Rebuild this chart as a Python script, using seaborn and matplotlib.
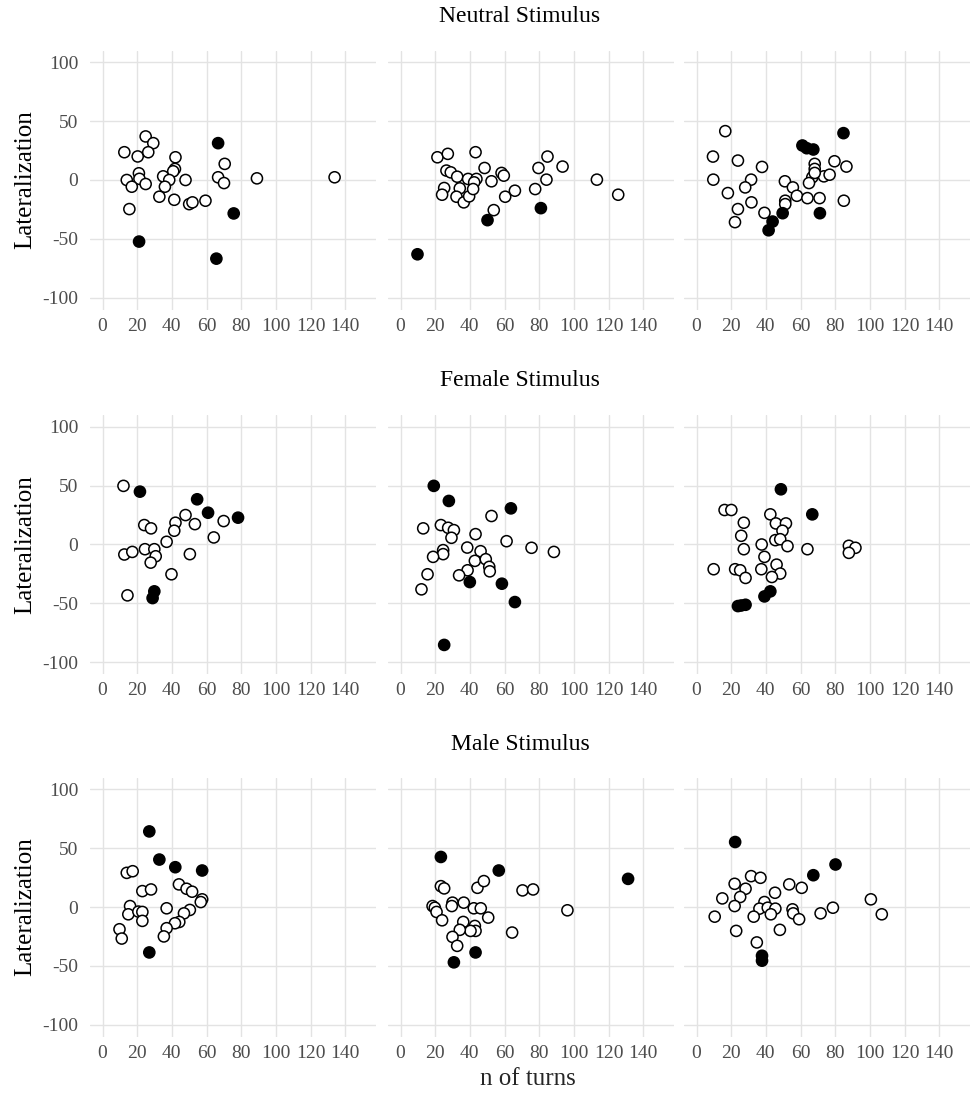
import pandas as pd
import seaborn as sns
import matplotlib.pyplot as plt

# --- data: (n of turns, lateralization) ---
stimuli = ['Neutral Stimulus', 'Female Stimulus', 'Male Stimulus']
x_ticks = [0, 20, 40, 60, 80, 100, 120, 140]
y_ticks = [-100, -50, 0, 50, 100]

neutral_1_open = [(12.6, 23.6), (20.3, 20), (24.9, 37), (29.3, 31.3), (26.4, 23.6), (14, 0),
                  (21, 5.7), (21.3, 1), (16.9, -5.7), (24.9, -3.4), (42.1, 19.3), (41.8, 9.4),
                  (40.8, 7.4), (35, 3.1), (38.5, 0), (36, -5.7), (32.8, -14.2), (41.4, -16.8),
                  (47.9, 0), (50, -20.5), (51.9, -19), (59.4, -17.6), (15.5, -24.7), (66.7, 2.3),
                  (70.1, -2.6), (70.5, 13.7), (89.1, 1.4), (133.9, 2.3)]
neutral_1_fill = [(66.7, 31.3), (21.1, -52.3), (65.7, -66.8), (75.7, -28.4)]

neutral_2_open = [(21.3, 19.3), (27.3, 22.2), (43.3, 23.6), (26.5, 8), (29, 6.5), (32.7, 2.8),
                  (48.5, 10.2), (39, 0.9), (43.8, 0.9), (42.5, -2), (52.5, -1.1), (58.3, 6),
                  (59.6, 3.7), (25.2, -6.8), (24, -12.5), (34.2, -7.1), (32.3, -14.2), (36.5, -19),
                  (39.6, -13.9), (41.9, -7.7), (60.4, -14.2), (66, -9.1), (53.8, -25.6), (79.6, 10.2),
                  (84.8, 19.9), (93.5, 11.4), (84.2, 0.3), (77.7, -7.7), (113.3, 0.3), (125.6, -12.5)]
neutral_2_fill = [(9.8, -63.1), (50.2, -34.1), (81, -23.9)]

neutral_3_open = [(16.6, 41.5), (9.5, 19.9), (9.7, 0.3), (23.9, 16.5), (37.8, 11.1), (31.5, 0.3),
                  (28.1, -6.3), (18.1, -11.1), (23.9, -24.7), (31.7, -19), (22.2, -35.8), (39.2, -27.9),
                  (51, -1.1), (55.6, -6.3), (57.9, -13.4), (51.2, -17.6), (51.2, -20.5), (64, -15.4),
                  (71, -15.4), (85, -17.6), (68.2, 13.7), (68.2, 9.4), (66.8, 2.3), (64.9, -2.6),
                  (73.5, 3.1), (76.8, 4.5), (79.6, 15.9), (86.5, 11.4), (68.2, 6)]
neutral_3_fill = [(61.1, 29.3), (63.6, 27), (67.4, 25.9), (84.8, 39.8), (41.6, -42.7),
                  (43.9, -35.3), (49.7, -28.2), (71.2, -28.2)]

female_1_open = [(12.1, 49.8), (24.1, 16.5), (28, 13.7), (42.1, 18.5), (41.4, 11.7), (47.9, 25),
                 (53.3, 17.3), (37, 2.3), (69.9, 19.9), (64.2, 6), (12.6, -8.5), (17.2, -6.3),
                 (24.5, -4), (29.9, -4), (30.7, -10), (27.8, -15.4), (50.4, -8.2), (39.8, -25.3),
                 (14.4, -43.2)]
female_1_fill = [(21.6, 44.9), (54.6, 38.4), (60.9, 27), (78.2, 22.8), (29.9, -39.8), (28.9, -45.5)]

female_2_open = [(13.1, 13.7), (23.3, 16.5), (27.5, 14.2), (30.8, 12.2), (29.4, 5.7), (43.3, 8.8),
                 (52.5, 24.2), (61.2, 2.8), (75.6, -2.8), (88.5, -6.3), (24.6, -4.8), (24.6, -8.2),
                 (18.8, -10.5), (38.5, -2.6), (46.2, -5.7), (42.9, -13.9), (49.2, -12.5), (51.2, -19),
                 (51.5, -22.8), (38.7, -21.9), (33.8, -26.2), (15.6, -25.3), (12.1, -38.1)]
female_2_fill = [(19.2, 49.8), (27.9, 37), (63.7, 30.7), (40, -31.9), (58.5, -33.3),
                 (66, -48.9), (25.2, -85.3)]

female_3_open = [(16.2, 29.3), (20.1, 29.3), (27.3, 18.5), (25.8, 7.4), (27.3, -4), (42.6, 25.6),
                 (45.8, 17.9), (51.6, 17.9), (49.6, 11.7), (45.5, 3.7), (48.3, 4.5), (52.5, -1.4),
                 (37.6, 0), (39.2, -10.5), (46.2, -17.1), (48.3, -24.7), (43.5, -27.6), (37.4, -21),
                 (22.3, -21), (25.2, -21.9), (28.3, -28.4), (9.9, -21), (64, -4), (87.9, -1.1),
                 (91.7, -2.8), (87.9, -7.1)]
female_3_fill = [(48.7, 46.9), (66.8, 25.6), (23.9, -52.3), (28.3, -51.2), (25.8, -51.8),
                 (39.2, -44.1), (42.6, -39.8)]

male_1_open = [(14, 29), (17.4, 30.4), (23, 13.5), (28, 14.9), (44.1, 19.2), (48.5, 15.5),
               (51.7, 13), (57.5, 6.5), (56.7, 4.2), (15.9, 0.8), (14.9, -6.2), (20.7, -3.9),
               (23, -4.2), (23, -11.8), (37, -1.1), (50.4, -2.5), (47, -5.4), (44.3, -12.7),
               (41.8, -13.8), (37, -18), (35.4, -25), (9.8, -18.9), (11.1, -26.8)]
male_1_fill = [(27, 64.2), (32.8, 40.3), (42, 33.8), (57.5, 31), (27, -38.6)]

male_2_open = [(23.3, 17.7), (25.2, 15.8), (18.5, 0.8), (19.8, -0.6), (20.8, -4.2), (24, -11.3),
               (30, 3.7), (29.6, 0.8), (36.5, 3.7), (44.4, 16.3), (48.1, 22), (42.3, -1.1),
               (46.3, -1.1), (50.6, -9), (36.2, -12.7), (42.9, -16.1), (43.3, -20.3), (40.4, -20.3),
               (34.2, -19.4), (30, -25.4), (32.7, -33), (64.4, -21.7), (70.4, 14.1), (76.5, 14.9),
               (96.3, -2.8)]
male_2_fill = [(23.3, 42.5), (56.7, 31), (131.3, 23.9), (30.8, -47), (43.3, -38.6)]

male_3_open = [(31.5, 26.2), (36.9, 24.8), (22, 19.7), (28.3, 15.5), (25.2, 8.5), (14.9, 7.3),
               (22, 0.8), (10.5, -8.2), (22.9, -20.3), (45.3, 12.1), (53.5, 19.2), (60.7, 16.3),
               (39.2, 4.2), (36.3, -1.4), (41.1, -0.6), (45.5, -1.4), (42.9, -6.2), (33, -8.2),
               (55.4, -2), (55.8, -5.4), (59.2, -10.4), (48.1, -19.4), (34.8, -30.1), (71.6, -5.4),
               (78.7, -0.6), (100.6, 6.5), (106.9, -6.2)]
male_3_fill = [(22.3, 55.2), (67.4, 27), (80.2, 36.1), (37.8, -41.4), (37.8, -45.6)]

panels = [
    [(neutral_1_open, neutral_1_fill), (neutral_2_open, neutral_2_fill), (neutral_3_open, neutral_3_fill)],
    [(female_1_open, female_1_fill), (female_2_open, female_2_fill), (female_3_open, female_3_fill)],
    [(male_1_open, male_1_fill), (male_2_open, male_2_fill), (male_3_open, male_3_fill)],
]

# --- style ---
sns.set_style('whitegrid', {'grid.color': '#e3e3e3', 'axes.edgecolor': 'white'})
plt.rcParams['font.family'] = ['Liberation Serif', 'DejaVu Serif']
plt.rcParams['axes.unicode_minus'] = False

W, H = 971, 1093
fig = plt.figure(figsize=(W / 100, H / 100), dpi=100)

lefts = [89.5, 387.5, 683.5]
tops = [50.5, 415, 777.5]
pw, ph = 286, 259
title_y = [17, 380, 745]

for r in range(3):
    for c in range(3):
        ax = fig.add_axes([lefts[c] / W, 1 - (tops[r] + ph) / H, pw / W, ph / H])
        op, fl = panels[r][c]
        df = pd.DataFrame(op + fl, columns=['turns', 'lat'])
        df['outlier'] = [False] * len(op) + [True] * len(fl)
        sns.scatterplot(data=df, x='turns', y='lat', hue='outlier',
                        palette={False: 'white', True: 'black'},
                        edgecolor='black', linewidth=1.1, s=64, legend=False, ax=ax)
        ax.set_xlim(-7.5, 157.5)
        ax.set_ylim(-110, 110)
        ax.set_xticks(x_ticks)
        ax.set_yticks(y_ticks)
        ax.grid(True, color='#e3e3e3', linewidth=1.0)
        ax.tick_params(length=0, labelsize=14, colors='#4d4d4d')
        ax.tick_params(axis='x', pad=6)
        ax.tick_params(axis='y', pad=8)
        ax.set_xlabel('')
        ax.set_ylabel('')
        if c > 0:
            ax.set_yticklabels([])
        for sp in ax.spines.values():
            sp.set_visible(False)
    fig.text(520 / W, 1 - title_y[r] / H, stimuli[r], ha='center', va='center',
             fontsize=17, color='black')
    fig.text(25 / W, 1 - (tops[r] + ph / 2) / H, 'Lateralization', rotation=90,
             ha='center', va='center', fontsize=18, color='black')

fig.text(528 / W, 1 - 1079 / H, 'n of turns', ha='center', va='center', fontsize=18)

fig.savefig('out.png', dpi=100)
